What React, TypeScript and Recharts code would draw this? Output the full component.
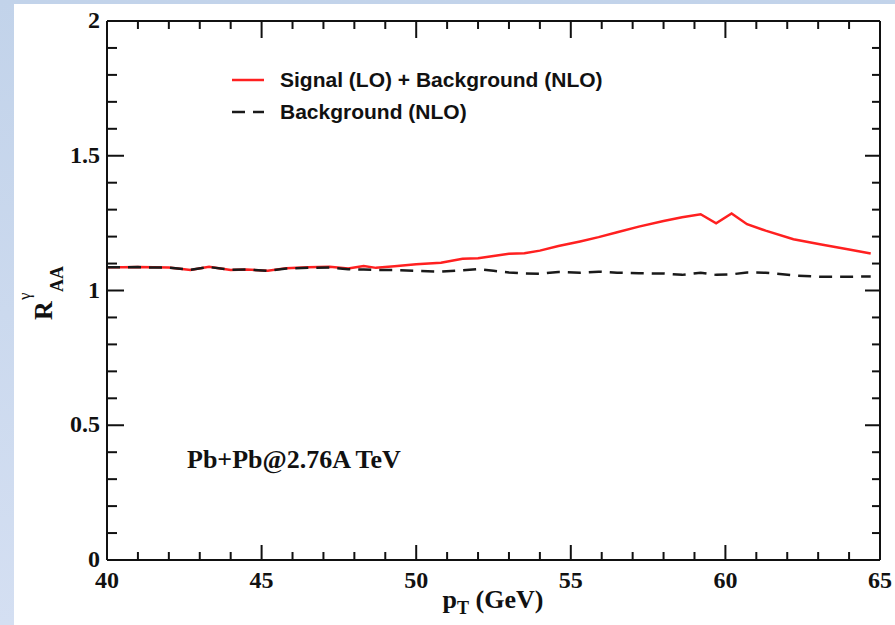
import { LineChart, Line, XAxis, YAxis, Legend, Customized } from 'recharts';

// transverse momentum grid (GeV)
const pT = [
  40, 40.5, 41, 41.5, 42, 42.7, 43.3, 44, 44.5, 45.2, 45.8, 46.5, 47.2, 47.8, 48.3, 48.7, 49.3, 50, 50.8, 51.5,
  52, 52.5, 53, 53.5, 54, 54.6, 55.3, 55.9, 56.5, 57.2, 58, 58.6, 59.2, 59.7, 60.2, 60.7, 61.3, 62.2, 63.1, 64, 64.7,
];

// R_AA, signal (LO) + background (NLO)
const signalPlusBkg = [
  1.086, 1.086, 1.087, 1.086, 1.085, 1.076, 1.088, 1.076, 1.078, 1.073, 1.083, 1.086, 1.088, 1.082, 1.091, 1.084,
  1.09, 1.097, 1.103, 1.118, 1.12, 1.128, 1.136, 1.138, 1.148, 1.165, 1.182, 1.198, 1.216, 1.237, 1.258, 1.272,
  1.283, 1.249, 1.286, 1.246, 1.222, 1.19, 1.171, 1.152, 1.137,
];

// R_AA, background (NLO) only
const backgroundOnly = [
  1.086, 1.086, 1.087, 1.085, 1.085, 1.077, 1.087, 1.077, 1.078, 1.073, 1.082, 1.084, 1.085, 1.079, 1.078, 1.076,
  1.076, 1.073, 1.07, 1.075, 1.079, 1.073, 1.067, 1.063, 1.062, 1.069, 1.066, 1.07, 1.066, 1.064, 1.063, 1.058,
  1.066, 1.058, 1.06, 1.067, 1.066, 1.056, 1.051, 1.051, 1.052,
];

const seriesNames = ['Signal (LO) + Background (NLO)', 'Background (NLO)'];

const xMajor = [40, 45, 50, 55, 60, 65];
const xMinor = [
  40, 41, 42, 43, 44, 45, 46, 47, 48, 49, 50, 51, 52, 53, 54, 55, 56, 57, 58, 59, 60, 61, 62, 63, 64, 65,
];
const yMajor = [0, 0.5, 1, 1.5, 2];
const yMinor = [
  0, 0.1, 0.2, 0.3, 0.4, 0.5, 0.6, 0.7, 0.8, 0.9, 1, 1.1, 1.2, 1.3, 1.4, 1.5, 1.6, 1.7, 1.8, 1.9, 2,
];

const data = pT.map((x, i) => ({ pT: x, signal: signalPlusBkg[i], background: backgroundOnly[i] }));

const INK = '#111';
const serif = '"Liberation Serif", "Times New Roman", serif';
const sans = '"Liberation Sans", Arial, sans-serif';
const frameStroke = { stroke: INK, strokeWidth: 2 };
const labelStyle = { fontFamily: serif, fontWeight: 'bold' as const, fontSize: 24, fill: INK };

// Tick renderers: every axis gets tickSize=0 / tickMargin=0, so (x, y) is the point on the frame.
// Ticks point inwards; majors are longer and the bottom/left ones carry the number.
function BottomTick({ x, y, payload }: any) {
  const major = xMajor.includes(payload.value);
  return (
    <g>
      <line x1={x} x2={x} y1={y} y2={y - (major ? 15 : 8)} {...frameStroke} />
      {major && (
        <text x={x} y={y + 28} textAnchor="middle" {...labelStyle}>
          {payload.value}
        </text>
      )}
    </g>
  );
}

function TopTick({ x, y, payload }: any) {
  const major = xMajor.includes(payload.value);
  return <line x1={x} x2={x} y1={y} y2={y + (major ? 17 : 8)} {...frameStroke} />;
}

function LeftTick({ x, y, payload }: any) {
  const major = yMajor.includes(payload.value);
  return (
    <g>
      <line x1={x} x2={x + (major ? 17 : 10)} y1={y} y2={y} {...frameStroke} />
      {major && (
        <text x={x - 7} y={y + 7} textAnchor="end" {...labelStyle}>
          {payload.value}
        </text>
      )}
    </g>
  );
}

function RightTick({ x, y, payload }: any) {
  const major = yMajor.includes(payload.value);
  return <line x1={x} x2={x - (major ? 15 : 8)} y1={y} y2={y} {...frameStroke} />;
}

function LegendBox({ payload }: any) {
  const rows = [...(payload || [])]
    .filter((entry: any) => seriesNames.includes(entry.value))
    .sort((a: any, b: any) => seriesNames.indexOf(a.value) - seriesNames.indexOf(b.value));
  return (
    <div style={{ fontFamily: sans, fontWeight: 'bold', fontSize: 21, color: INK }}>
      {rows.map((entry: any) => (
        <div key={entry.value} style={{ display: 'flex', alignItems: 'center', height: 32 }}>
          <svg width={48} height={32}>
            <line
              x1={0}
              x2={32}
              y1={16}
              y2={16}
              stroke={entry.color}
              strokeWidth={2.5}
              strokeDasharray={entry.payload?.strokeDasharray}
            />
          </svg>
          <span>{entry.value}</span>
        </div>
      ))}
    </div>
  );
}

function YTitle() {
  return (
    <g fontFamily={serif} fontWeight="bold" fill={INK}>
      <text transform="translate(38,316) rotate(-90)" fontSize={26}>R</text>
      <text transform="translate(16,296) rotate(-90)" fontSize={17} fontWeight="normal">γ</text>
      <text transform="translate(49,288) rotate(-90)" fontSize={18}>AA</text>
    </g>
  );
}

function XTitle() {
  return (
    <text x={479} y={604} textAnchor="middle" fontFamily={serif} fontWeight="bold" fontSize={26} fill={INK}>
      p
      <tspan fontSize={18} dy={6}>T</tspan>
      <tspan dy={-6}> (GeV)</tspan>
    </text>
  );
}

function Annotation() {
  return (
    <text x={173} y={464} fontFamily={serif} fontWeight="bold" fontSize={26} fill={INK}>
      Pb+Pb@2.76A TeV
    </text>
  );
}

const xProps = {
  dataKey: 'pT',
  type: 'number' as const,
  domain: [40, 65],
  ticks: xMinor,
  interval: 0,
  allowDataOverflow: true,
  tickSize: 0,
  tickMargin: 0,
  tickLine: false,
  axisLine: frameStroke,
};
const yProps = {
  type: 'number' as const,
  domain: [0, 2],
  ticks: yMinor,
  interval: 0,
  allowDataOverflow: true,
  tickSize: 0,
  tickMargin: 0,
  tickLine: false,
  axisLine: frameStroke,
};

export default function App() {
  return (
    <div
      style={{
        position: 'absolute',
        left: 0,
        top: 0,
        width: 895,
        height: 625,
        background: 'linear-gradient(180deg, #c2d3ea 0%, #d4dff2 100%)',
      }}
    >
      <div style={{ position: 'absolute', left: 14, top: 4, width: 881, height: 621, background: '#fff' }}>
        <LineChart width={881} height={621} data={data} margin={{ top: 16, right: 14, bottom: 15, left: 13 }}>
          <XAxis xAxisId="x" orientation="bottom" height={50} tick={<BottomTick />} {...xProps} />
          <XAxis xAxisId="top" orientation="top" height={1} tick={<TopTick />} {...xProps} />
          <YAxis yAxisId="y" orientation="left" width={80} tick={<LeftTick />} {...yProps} />
          <YAxis yAxisId="right" orientation="right" width={1} tick={<RightTick />} {...yProps} />

          <Line
            xAxisId="x"
            yAxisId="y"
            type="linear"
            dataKey="signal"
            name={seriesNames[0]}
            stroke="#ff2020"
            strokeWidth={2.5}
            dot={false}
            isAnimationActive={false}
          />
          <Line
            xAxisId="x"
            yAxisId="y"
            type="linear"
            dataKey="background"
            name={seriesNames[1]}
            stroke="#1a1a1a"
            strokeWidth={2.5}
            strokeDasharray="13 8"
            dot={false}
            isAnimationActive={false}
          />
          {/* invisible copy bound to the top/right axes so they get a scale */}
          <Line
            xAxisId="top"
            yAxisId="right"
            dataKey="background"
            stroke="none"
            dot={false}
            activeDot={false}
            legendType="none"
            isAnimationActive={false}
          />

          <Legend
            layout="vertical"
            align="center"
            verticalAlign="middle"
            content={<LegendBox />}
            wrapperStyle={{ left: 218, top: 60, width: 440 }}
          />
          <Customized component={YTitle} />
          <Customized component={XTitle} />
          <Customized component={Annotation} />
        </LineChart>
      </div>
    </div>
  );
}
